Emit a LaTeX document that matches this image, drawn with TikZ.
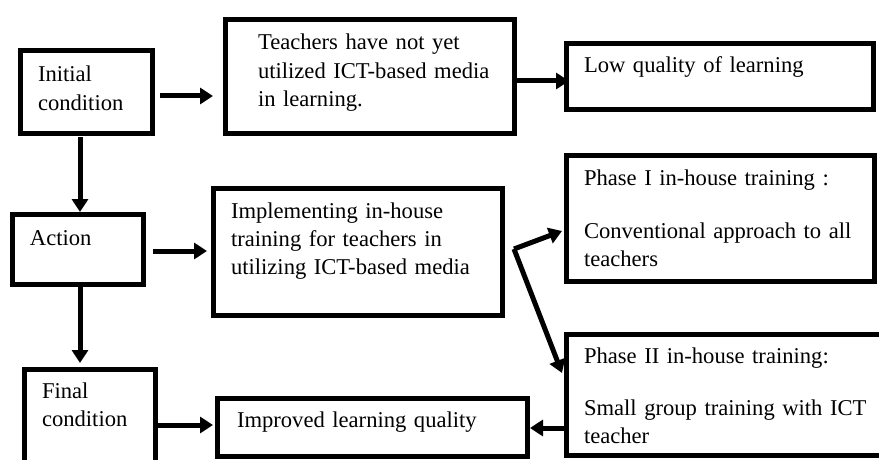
\documentclass[tikz,border=0pt]{standalone}
\usepackage{fontspec}
\setmainfont{Liberation Serif}
\usetikzlibrary{arrows.meta}
\begin{document}
\begin{tikzpicture}[x=1pt,y=-1pt,
  box/.style={draw, line width=5pt, outer sep=2.5pt, inner sep=0pt, rectangle},
  txt/.style={anchor=base west, inner sep=0pt, outer sep=0pt, text width=330pt, align=left,
    font=\fontsize{22.6pt}{28.4pt}\selectfont},
  arr/.style={line width=5pt, -{Triangle[length=13pt,width=16pt]}}]
\useasboundingbox (0,0) rectangle (879,460);
\fill[white] (0,0) rectangle (879,460);
\clip (0,0) rectangle (879,460);
% boxes
\node[box, minimum width=132pt, minimum height=83pt]  (init)   at (86.5,92)    {};
\node[box, minimum width=289pt, minimum height=114pt] (teach)  at (370,76.5)   {};
\node[box, minimum width=307pt, minimum height=66pt]  (low)    at (720,76.5)   {};
\node[box, minimum width=131pt, minimum height=70pt]  (action) at (78,249.5)   {};
\node[box, minimum width=289pt, minimum height=127pt] (impl)   at (358,252)    {};
\node[box, minimum width=308pt, minimum height=126pt] (p1)     at (720.5,218.5) {};
\node[box, minimum width=321pt, minimum height=121pt] (p2)     at (727,395)    {};
\node[box, minimum width=131pt, minimum height=128pt] (final)  at (90,433.5)   {};
\node[box, minimum width=310pt, minimum height=58pt]  (impr)   at (372.5,427.5) {};
% texts
\node[txt] (tinit)   at (38,82)   {Initial\\condition};
\node[txt] (tteach)  at (258,50)  {Teachers have not yet\\utilized ICT-based media\\in learning.};
\node[txt] (tlow)    at (584,73)  {Low quality of learning};
\node[txt] (taction) at (30,245)  {Action};
\node[txt] (timpl)   at (231,218) {Implementing in-house\\training for teachers in\\utilizing ICT-based media};
\node[txt] (tp1)     at (584,185) {Phase I in-house training :\\[24.7pt]Conventional approach to all\\teachers};
\node[txt] (tp2)     at (584,363) {Phase II in-house training:\\[23.7pt]Small group training with ICT\\teacher};
\node[txt] (tfinal)  at (42,398)  {Final\\condition};
\node[txt] (timpr)   at (237,427) {Improved learning quality};
% connectors
\coordinate (bend) at (514,249);
\draw[arr] ([shift={(5,4)}]init.east) -- ([shift={(-10,4)}]init.east -| teach.west);
\draw[arr] ([shift={(0,4.5)}]teach.east) -- ([shift={(5,4.5)}]teach.east -| low.west);
\draw[arr] ([shift={(-6.5,1)}]init.south) -- ([shift={(2,0)}]action.north);
\draw[arr] ([shift={(7,1.5)}]action.east) -- ([shift={(-4,1.5)}]action.east -| impl.west);
\draw[arr] ([shift={(2,0)}]action.south) -- ([shift={(-10,-4)}]final.north);
\draw[arr] ([shift={(0,-8.5)}]final.east) -- ([shift={(-2,-8.5)}]final.east -| impr.west);
\draw[arr] (bend) -- ([shift={(-2,12.5)}]p1.west);
\draw[arr] (bend) -- ([shift={(-2,-22)}]p2.west);
\draw[arr] ([shift={(0,33)}]p2.west) -- ([shift={(0,33)}]p2.west -| impr.east);
\end{tikzpicture}
\end{document}
